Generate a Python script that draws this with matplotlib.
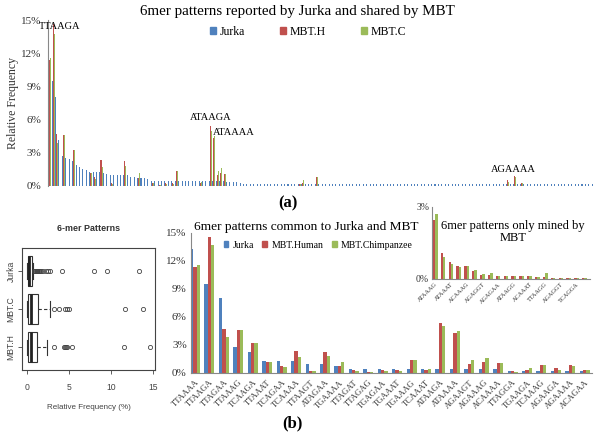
import numpy as np
import matplotlib
matplotlib.use("Agg")
import matplotlib.pyplot as plt
from matplotlib.patches import Patch
from matplotlib.ticker import FuncFormatter

blue = "#4F81BD"
red = "#C0504D"
green = "#9BBB59"
serif = "Liberation Serif"
sans = "Liberation Sans"

# ---- panel (a): all Jurka 6mers, sorted by Jurka frequency (%)
jurka_a = [
    13.3, 9.5, 8.0, 4.2, 2.75, 2.5, 2.4, 2.25, 1.9, 1.7,
    1.5, 1.45, 1.25, 1.25, 1.25, 1.25, 1.2, 1.1, 1.0, 1.0,
    1.0, 1.0, 1.0, 0.95, 0.85, 0.8, 0.7, 0.7, 0.7, 0.65,
    0.45, 0.45, 0.45, 0.45, 0.45, 0.45, 0.45, 0.45, 0.45, 0.45,
    0.45, 0.45, 0.45, 0.45, 0.43, 0.43, 0.43, 0.43, 0.43, 0.43,
    0.43, 0.43, 0.4, 0.4, 0.4, 0.35, 0.3, 0.2, 0.2, 0.2,
    0.2, 0.2, 0.2, 0.2, 0.2, 0.2, 0.2, 0.2, 0.2, 0.2,
    0.2, 0.2, 0.2, 0.2, 0.2, 0.2, 0.2, 0.2, 0.2, 0.2,
    0.2, 0.2, 0.2, 0.2, 0.2, 0.2, 0.2, 0.2, 0.2, 0.2,
    0.2, 0.2, 0.2, 0.2, 0.2, 0.2, 0.2, 0.2, 0.2, 0.2,
    0.2, 0.2, 0.2, 0.2, 0.2, 0.2, 0.2, 0.2, 0.2, 0.2,
    0.2, 0.2, 0.2, 0.2, 0.2, 0.2, 0.2, 0.2, 0.2, 0.2,
    0.2, 0.2, 0.2, 0.2, 0.2, 0.2, 0.2, 0.2, 0.2, 0.2,
    0.2, 0.2, 0.2, 0.2, 0.2, 0.2, 0.2, 0.2, 0.2, 0.2,
    0.15, 0.15, 0.15, 0.15, 0.15, 0.15, 0.15, 0.15, 0.15, 0.15,
    0.15, 0.15, 0.15, 0.15, 0.15, 0.15, 0.15, 0.15, 0.15, 0.15,
]

# ---- panel (b): 6mers common to Jurka and MBT
common = ["TTAAAA", "TTAAGA", "TTAGAA", "TTAAAG", "TCAAGA", "TTAAAT", "TCAGAA",
          "TCAAAA", "TTAAGT", "ATAGAA", "TGAAAA", "TTAGAT", "TTAGAG", "TGAGAA",
          "TGAAAT", "TGAAAG", "TCAAAT", "ATAAGA", "ATAAAA", "AGAAGT", "AGAAAG",
          "ACAAAA", "TTAGGA", "TGAAGA", "TCAAAG", "AGAAGA", "AGAAAA", "ACAGAA"]
# where each common 6mer sits in panel (a)
pos_in_a = [0, 1, 2, 4, 7, 12, 13, 15, 18, 22, 26, 30, 32, 34, 36, 37, 44, 47,
            48, 49, 50, 51, 73, 74, 78, 134, 136, 138]
mbt_h = [11.4, 14.6, 4.7, 4.6, 3.25, 1.2, 0.8, 2.35, 0.25, 2.3, 0.7, 0.3, 0.1, 0.3,
         0.3, 1.35, 0.3, 5.4, 4.3, 0.96, 1.2, 1.1, 0.2, 0.3, 0.85, 0.57, 0.9, 0.3]
mbt_c = [11.6, 13.75, 3.9, 4.6, 3.25, 1.2, 0.65, 1.7, 0.2, 1.85, 1.15, 0.25, 0.1, 0.2,
         0.2, 1.35, 0.4, 5.0, 4.5, 1.4, 1.65, 1.05, 0.15, 0.5, 0.85, 0.35, 0.8, 0.3]

# ---- inset: 6mers only mined by MBT
only_ticks = ["ATAAAG", "ATAAAT", "ACAAAG", "AGAGGT", "AGAGAA",
              "ATAAGG", "ACAAAT", "TTAAGG", "AGAGGT", "TCAGGA"]
only_h = [2.45, 1.1, 0.69, 0.55, 0.55, 0.32, 0.18, 0.18, 0.14, 0.14,
          0.12, 0.14, 0.12, 0.1, 0.08, 0.05, 0.05, 0.05, 0.05, 0.05]
only_c = [2.7, 0.9, 0.63, 0.5, 0.55, 0.37, 0.2, 0.25, 0.13, 0.11,
          0.11, 0.14, 0.11, 0.08, 0.26, 0.05, 0.05, 0.04, 0.05, 0.04]

# ---- boxplot summary (Relative Frequency, %)
box_names = ["MBT.H", "MBT.C", "Jurka"]
box_q1 = [0.08, 0.08, 0.08]
box_med = [0.47, 0.47, 0.3]
box_q3 = [1.18, 1.34, 0.55]
box_lo = [0.0, 0.0, 0.03]
box_hi = [2.44, 2.75, 0.75]
box_out = [
    [3.25, 4.4, 4.5, 4.6, 4.7, 5.4, 11.5, 14.6],
    [3.2, 3.8, 4.5, 4.7, 5.0, 11.6, 13.8],
    [0.9, 1.0, 1.1, 1.2, 1.25, 1.3, 1.45, 1.5, 1.7, 1.9, 2.25, 2.5, 2.75,
     4.2, 8.0, 9.5, 13.3],
]

W, H = 600, 437
fig = plt.figure(figsize=(6, 4.37), dpi=100)
pct = FuncFormatter(lambda v, p: "%d%%" % v)


def px_axes(x0, y0, x1, y1):
    return fig.add_axes([x0 / W, 1 - y1 / H, (x1 - x0) / W, (y1 - y0) / H])


# ================= panel (a)
axa = px_axes(48, 20, 595, 186)
n = len(jurka_a)
xa = np.arange(n)
h_a = np.zeros(n)
c_a = np.zeros(n)
h_a[pos_in_a] = mbt_h
c_a[pos_in_a] = mbt_c
w = 0.3
axa.bar(xa - w, jurka_a, w, color=blue, lw=0)
axa.bar(xa, h_a, w, color=red, lw=0)
axa.bar(xa + w, c_a, w, color=green, lw=0)
axa.set_xlim(-0.5, n - 0.5)
axa.set_ylim(0, 15)
axa.set_yticks(range(0, 16, 3))
axa.yaxis.set_major_formatter(pct)
axa.set_xticks([])
for s in ["top", "right", "bottom"]:
    axa.spines[s].set_visible(False)
axa.spines["left"].set_color("#888888")
axa.tick_params(axis="y", length=0, pad=5, labelsize=8, colors="#333333")
for t in axa.get_yticklabels():
    t.set_fontfamily(serif)
axa.set_ylabel("Relative Frequency", fontfamily=serif, fontsize=8.5,
               color="#333333", labelpad=1)

lab = {1: ("TTAAGA", 2.0, 14.4, "center"), 17: ("ATAAGA", 0.0, 6.2, "center"),
       18: ("ATAAAA", -0.3, 4.8, "left"), 26: ("AGAAAA", -0.5, 1.5, "center")}
for k, (txt, dx, yv, ha) in lab.items():
    axa.text(pos_in_a[k] + dx, yv, txt, ha=ha, va="center", fontfamily=serif,
             fontsize=7.5)

fig.text(297 / W, 1 - 11 / H, "6mer patterns reported by Jurka and shared by MBT",
         ha="center", va="center", fontfamily=serif, fontsize=10.8)
fig.legend([Patch(color=blue), Patch(color=red), Patch(color=green)],
           ["Jurka", "MBT.H", "MBT.C"], loc="center",
           bbox_to_anchor=(308 / W, 1 - 32 / H), ncol=3, frameon=False,
           prop={"family": serif, "size": 8.5}, handlelength=0.5, handleheight=0.5,
           handletextpad=0.3, columnspacing=3.0)
fig.text(288 / W, 1 - 203 / H, "(a)", ha="center", va="center", fontfamily=serif,
         fontsize=12, fontweight="bold")

# ================= panel (b)
axb = px_axes(191, 233, 592, 373)
xb = np.arange(len(common))
jurka_b = [jurka_a[i] for i in pos_in_a]
wb = 0.23
axb.bar(xb - wb, jurka_b, wb, color=blue, lw=0)
axb.bar(xb, mbt_h, wb, color=red, lw=0)
axb.bar(xb + wb, mbt_c, wb, color=green, lw=0)
axb.set_xlim(-0.28, len(common) - 0.5)
axb.set_ylim(0, 15)
axb.set_yticks(range(0, 16, 3))
axb.yaxis.set_major_formatter(pct)
axb.set_xticks(xb)
axb.set_xticklabels(common, rotation=45, ha="right", rotation_mode="anchor",
                    fontfamily=serif, fontsize=6.2)
for s in ["top", "right"]:
    axb.spines[s].set_visible(False)
axb.spines["left"].set_color("#888888")
axb.spines["bottom"].set_color("#888888")
axb.tick_params(axis="x", length=0, pad=4, colors="#333333")
axb.tick_params(axis="y", length=0, pad=3, labelsize=8, colors="#333333")
for t in axb.get_yticklabels():
    t.set_fontfamily(serif)

fig.text(306 / W, 1 - 227 / H, "6mer patterns common to Jurka and MBT",
         ha="center", va="center", fontfamily=serif, fontsize=9.6)
fig.legend([Patch(color=blue), Patch(color=red), Patch(color=green)],
           ["Jurka", "MBT.Human", "MBT.Chimpanzee"], loc="center",
           bbox_to_anchor=(318 / W, 1 - 245 / H), ncol=3, frameon=False,
           prop={"family": serif, "size": 7}, handlelength=0.5, handleheight=0.5,
           handletextpad=0.4, columnspacing=0.9)
fig.text(292 / W, 1 - 423 / H, "(b)", ha="center", va="center", fontfamily=serif,
         fontsize=12, fontweight="bold")

# ================= inset
axi = px_axes(432, 207, 590, 279)
xi = np.arange(len(only_h))
wi = 0.3
axi.bar(xi - wi / 2, only_h, wi, color=red, lw=0)
axi.bar(xi + wi / 2, only_c, wi, color=green, lw=0)
axi.set_xlim(-0.4, len(only_h) - 0.3)
axi.set_ylim(0, 3)
axi.set_yticks([0, 3])
axi.yaxis.set_major_formatter(pct)
axi.set_xticks(xi[::2])
axi.set_xticklabels(only_ticks, rotation=45, ha="right", rotation_mode="anchor",
                    fontfamily=serif, fontsize=4.5)
for s in ["top", "right"]:
    axi.spines[s].set_visible(False)
axi.spines["left"].set_color("#888888")
axi.spines["bottom"].set_color("#888888")
axi.tick_params(axis="x", length=0, pad=2, colors="#333333")
axi.tick_params(axis="y", length=0, pad=2, labelsize=7, colors="#333333")
for t in axi.get_yticklabels():
    t.set_fontfamily(serif)
axi.patch.set_alpha(0)
fig.text(513 / W, 1 - 232 / H, "6mer patterns only mined by\nMBT", ha="center",
         va="center", fontfamily=serif, fontsize=9, linespacing=1.05)

# ================= boxplot
axc = px_axes(22, 248, 155, 370)
stats = []
for i in range(3):
    stats.append(dict(med=box_med[i], q1=box_q1[i], q3=box_q3[i],
                      whislo=box_lo[i], whishi=box_hi[i], fliers=box_out[i],
                      label=box_names[i]))
axc.bxp(stats, positions=[1, 2, 3], widths=0.8, vert=False, patch_artist=True,
        boxprops=dict(facecolor="white", edgecolor="#333333", lw=0.8),
        medianprops=dict(color="#222222", lw=2),
        whiskerprops=dict(color="#333333", lw=0.8, ls=(0, (3, 2))),
        capprops=dict(color="#333333", lw=0.8), capwidths=0.4,
        flierprops=dict(marker="o", mfc="none", mec="#444444", ms=3, mew=0.6))
axc.set_xlim(-0.58, 15.18)
axc.set_ylim(0.4, 3.6)
axc.set_xticks([0, 5, 10, 15])
axc.set_yticks([1, 2, 3])
axc.set_yticklabels(box_names, rotation=90, va="center")
for s in axc.spines.values():
    s.set_color("#444444")
    s.set_linewidth(0.8)
axc.tick_params(labelsize=6.2, length=3, width=0.6, colors="#444444")
axc.tick_params(axis="x", pad=6)
axc.tick_params(axis="y", pad=1.5)
for t in axc.get_xticklabels() + axc.get_yticklabels():
    t.set_fontfamily(sans)
axc.set_xlabel("Relative Frequency (%)", fontfamily=sans, fontsize=5.8,
               color="#444444", labelpad=9)
axc.set_title("6-mer Patterns", fontfamily=sans, fontsize=6.4, color="#333333",
              fontweight="bold", pad=12)

fig.savefig("out.png", dpi=100, facecolor="white")
